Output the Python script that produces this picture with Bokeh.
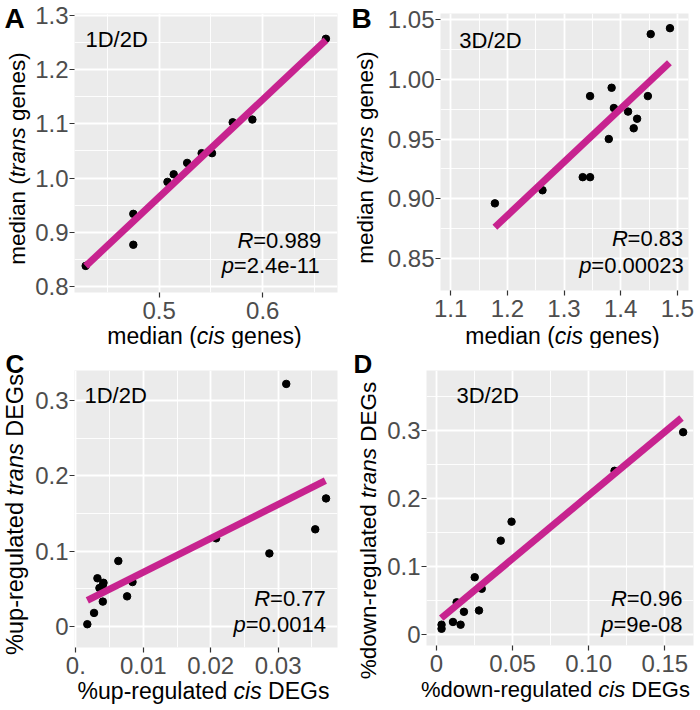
from bokeh.plotting import figure
from bokeh.models import Label, FixedTicker, Range1d
from bokeh.layouts import row, column
from bokeh.core.properties import value
from bokeh.embed import file_html
from bokeh.resources import INLINE

# ---------------- data ----------------
a_cis = [0.429, 0.475, 0.475, 0.508, 0.514, 0.527, 0.541, 0.551, 0.571, 0.590, 0.661]
a_trans = [0.838, 0.934, 0.877, 0.993, 1.007, 1.028, 1.046, 1.046, 1.103, 1.108, 1.257]
a_fit_x = [0.429, 0.661]
a_fit_y = [0.8375, 1.2545]

b_cis = [1.178, 1.262, 1.333, 1.346, 1.346, 1.379, 1.384, 1.388, 1.413, 1.423, 1.429, 1.448, 1.453, 1.487]
b_trans = [0.896, 0.907, 0.918, 0.918, 0.986, 0.950, 0.993, 0.976, 0.973, 0.959, 0.967, 0.986, 1.038, 1.043]
b_fit_x = [1.178, 1.486]
b_fit_y = [0.876, 1.014]

c_cis = [0.0017, 0.0027, 0.0032, 0.0035, 0.0040, 0.0041, 0.0040, 0.0063, 0.0076, 0.0084,
         0.0208, 0.0287, 0.0312, 0.0355, 0.0371]
c_trans = [0.003, 0.018, 0.064, 0.051, 0.055, 0.058, 0.033, 0.087, 0.040, 0.059,
           0.117, 0.097, 0.322, 0.129, 0.170]
c_fit_x = [0.0017, 0.037]
c_fit_y = [0.0345, 0.1935]

d_cis = [0.0033, 0.0033, 0.0108, 0.0132, 0.0158, 0.018, 0.0251, 0.0279, 0.0297, 0.0422, 0.0493, 0.117, 0.1621]
d_trans = [0.008, 0.014, 0.018, 0.047, 0.014, 0.033, 0.084, 0.035, 0.067, 0.138, 0.166, 0.241, 0.298]
d_fit_x = [0.0031, 0.161]
d_fit_y = [0.0236, 0.319]

a_xticks = [0.5, 0.6]
a_xlabels = ["0.5", "0.6"]
a_yticks = [0.8, 0.9, 1.0, 1.1, 1.2, 1.3]
a_ylabels = ["0.8", "0.9", "1.0", "1.1", "1.2", "1.3"]
b_xticks = [1.1, 1.2, 1.3, 1.4, 1.5]
b_xlabels = ["1.1", "1.2", "1.3", "1.4", "1.5"]
b_yticks = [0.85, 0.90, 0.95, 1.00, 1.05]
b_ylabels = ["0.85", "0.90", "0.95", "1.00", "1.05"]
c_xticks = [0.0, 0.01, 0.02, 0.03]
c_xlabels = ["0.", "0.01", "0.02", "0.03"]
c_yticks = [0.0, 0.1, 0.2, 0.3]
c_ylabels = ["0", "0.1", "0.2", "0.3"]
d_xticks = [0.0, 0.05, 0.10, 0.15]
d_xlabels = ["0", "0.05", "0.10", "0.15"]
d_yticks = [0.0, 0.1, 0.2, 0.3]
d_ylabels = ["0", "0.1", "0.2", "0.3"]

# ---------------- styling ----------------
FONT = "Liberation Sans"
LINE_COLOR = "#C7238F"
PANEL_BG = "#EBEBEB"
TICK_TXT = "#4D4D4D"
BASE_FIX = 0.32  # empirical shift (in em) between requested baseline and drawn text

# Arial / Liberation Sans advance widths (1/1000 em)
W = {' ': 278, '(': 333, ')': 333, '%': 889, '-': 333, '.': 278, '=': 584, '/': 278,
     'a': 556, 'b': 556, 'c': 500, 'd': 556, 'e': 556, 'f': 278, 'g': 556, 'h': 556,
     'i': 222, 'j': 222, 'k': 500, 'l': 222, 'm': 833, 'n': 556, 'o': 556, 'p': 556,
     'q': 556, 'r': 333, 's': 500, 't': 278, 'u': 556, 'v': 500, 'w': 722, 'x': 500,
     'y': 500, 'z': 500, 'D': 722, 'E': 667, 'G': 778, 'R': 722}


def tw(s, size):
    return sum(W.get(ch, 556) for ch in s) / 1000.0 * size


def lead_w(s, size):
    return tw(s[:len(s) - len(s.lstrip())], size)


def no_align(f):
    if "frame_align" in f.properties():
        f.frame_align = False


# ---------- main plotting panels ----------
def px2data(P, X, Y):
    x = P["x0"] + (X - P["fl"]) / (P["fr"] - P["fl"]) * (P["x1"] - P["x0"])
    y = P["y0"] + (P["fb"] - Y) / (P["fb"] - P["ft"]) * (P["y1"] - P["y0"])
    return x, y


def add_label(p, P, X, Y, text, size, style="normal"):
    x, y = px2data(P, X, Y - BASE_FIX * size)
    p.add_layout(Label(x=x, y=y, text=text, text_font=FONT, text_font_size=f"{size}px",
                       text_font_style=style, text_align="left", text_baseline="alphabetic",
                       text_color="black"))


def rich_label(p, P, segs, X, Y, size, align="left"):
    total = sum(tw(t, size) for t, _ in segs)
    start = X - total if align == "right" else X
    for t, st in segs:
        add_label(p, P, start + lead_w(t, size), Y, t.strip(), size, style=st)
        start += tw(t, size)


def make_panel(P, xs, ys, fx, fy, xt, xl, yt, yl, xminor, yminor):
    p = figure(width=P["cw"], height=P["ch"], title=None,
               x_range=Range1d(P["x0"], P["x1"]), y_range=Range1d(P["y0"], P["y1"]),
               output_backend="svg", toolbar_location=None,
               min_border_left=P["fl"] - P["cx"],
               min_border_right=P["cx"] + P["cw"] - P["fr"],
               min_border_top=P["ft"] - P["cy"],
               min_border_bottom=P["cy"] + P["ch"] - P["fb"])
    no_align(p)
    p.background_fill_color = PANEL_BG
    p.border_fill_color = "white"
    p.outline_line_color = None
    p.xaxis.ticker = FixedTicker(ticks=xt, minor_ticks=xminor)
    p.yaxis.ticker = FixedTicker(ticks=yt, minor_ticks=yminor)
    p.xaxis.major_label_overrides = {t: l for t, l in zip(xt, xl)}
    p.yaxis.major_label_overrides = {t: l for t, l in zip(yt, yl)}
    for ax in (p.xaxis[0], p.yaxis[0]):
        ax.axis_line_color = None
        ax.major_tick_line_color = "#333333"
        ax.major_tick_line_width = 1.2
        ax.major_tick_out = 5
        ax.major_tick_in = 0
        ax.minor_tick_line_color = None
        ax.major_label_text_font = FONT
        ax.major_label_text_font_size = "24px"
        ax.major_label_text_color = TICK_TXT
    p.xaxis.major_label_standoff = 4
    p.yaxis.major_label_standoff = 1
    for g in (p.xgrid[0], p.ygrid[0]):
        g.grid_line_color = "white"
        g.grid_line_width = 1.8
        g.minor_grid_line_color = "white"
        g.minor_grid_line_width = 0.9
    p.scatter(xs, ys, size=7.5, color="black")
    p.line(fx, fy, line_color=LINE_COLOR, line_width=7)
    return p


# ---------- text-only strips (axis titles, panel letters) ----------
def text_fig(x0, x1, y0, y1):
    f = figure(width=x1 - x0, height=y1 - y0, title=None,
               x_range=Range1d(x0, x1), y_range=Range1d(0, y1 - y0),
               output_backend="svg", toolbar_location=None,
               x_axis_location=None, y_axis_location=None,
               min_border_left=0, min_border_right=0, min_border_top=0, min_border_bottom=0)
    no_align(f)
    f.outline_line_color = None
    f.background_fill_color = "white"
    f.border_fill_color = "white"
    f.grid.visible = False
    f._pg = (x0, x1, y0, y1)
    return f


def put(f, X, Y, txt, size, style="normal", angle=0):
    y1 = f._pg[3]
    if angle == 0:
        Y = Y - BASE_FIX * size
    else:
        X = X - BASE_FIX * size
    f.text(x=[X], y=[y1 - Y], text=[txt], text_font=value(FONT), text_font_size=f"{size}px",
           text_font_style=style, text_align="left", text_baseline="alphabetic",
           angle=angle, angle_units="deg", text_color="black")


def rich_h(f, segs, Xc, Y, size):
    total = sum(tw(t, size) for t, _ in segs)
    start = Xc - total / 2
    for t, st in segs:
        put(f, start + lead_w(t, size), Y, t.strip(), size, style=st)
        start += tw(t, size)


def rich_v(f, segs, X, Yc, size):
    total = sum(tw(t, size) for t, _ in segs)
    start = Yc + total / 2
    for t, st in segs:
        put(f, X, start - lead_w(t, size), t.strip(), size, style=st, angle=90)
        start -= tw(t, size)


# frame geometry (fl, fr, ft, fb) and canvas boxes (cx, cy, cw, ch), page pixels
PA = dict(fl=72, fr=337, ft=13, fb=292, cx=32, cy=0, cw=318, ch=322,
          x0=0.4182, x1=0.6722, y0=0.7889, y1=1.3037)
PB = dict(fl=437, fr=688, ft=13, fb=290, cx=384, cy=0, cw=316, ch=322,
          x0=1.082, x1=1.5197, y0=0.8229, y1=1.0553)
PC = dict(fl=73, fr=337, ft=370, fb=647, cx=32, cy=348, cw=318, ch=329,
          x0=-0.0002, x1=0.0388, y0=-0.0279, y1=0.3398)
PD = dict(fl=426, fr=693, ft=370, fb=645, cx=384, cy=348, cw=316, ch=327,
          x0=-0.0066, x1=0.1689, y0=-0.0167, y1=0.389)

pa = make_panel(PA, a_cis, a_trans, a_fit_x, a_fit_y, a_xticks, a_xlabels, a_yticks, a_ylabels,
                [0.45, 0.55, 0.65], [0.85, 0.95, 1.05, 1.15, 1.25])
pb = make_panel(PB, b_cis, b_trans, b_fit_x, b_fit_y, b_xticks, b_xlabels, b_yticks, b_ylabels,
                [1.15, 1.25, 1.35, 1.45], [0.875, 0.925, 0.975, 1.025])
pc = make_panel(PC, c_cis, c_trans, c_fit_x, c_fit_y, c_xticks, c_xlabels, c_yticks, c_ylabels,
                [0.005, 0.015, 0.025, 0.035], [0.05, 0.15, 0.25])
pd = make_panel(PD, d_cis, d_trans, d_fit_x, d_fit_y, d_xticks, d_xlabels, d_yticks, d_ylabels,
                [0.025, 0.075, 0.125], [0.05, 0.15, 0.25, 0.35])

# in-panel annotations
add_label(pa, PA, 83, 46, "1D/2D", 22)
add_label(pb, PB, 456, 47, "3D/2D", 22)
add_label(pc, PC, 83, 402, "1D/2D", 22)
add_label(pd, PD, 456, 402, "3D/2D", 22)

rich_label(pa, PA, [("R", "italic"), ("=0.989", "normal")], 320, 247, 22, align="right")
rich_label(pa, PA, [("p", "italic"), ("=2.4e-11", "normal")], 320, 272, 22, align="right")
rich_label(pb, PB, [("R", "italic"), ("=0.83", "normal")], 682, 245, 22, align="right")
rich_label(pb, PB, [("p", "italic"), ("=0.00023", "normal")], 682, 272, 22, align="right")
rich_label(pc, PC, [("R", "italic"), ("=0.77", "normal")], 325, 605, 22, align="right")
rich_label(pc, PC, [("p", "italic"), ("=0.0014", "normal")], 325, 631, 22, align="right")
rich_label(pd, PD, [("R", "italic"), ("=0.96", "normal")], 682, 605, 22, align="right")
rich_label(pd, PD, [("p", "italic"), ("=9e-08", "normal")], 682, 631, 22, align="right")

# left strips: panel letters + y titles
ya = text_fig(0, 32, 0, 348)
yb = text_fig(350, 384, 0, 348)
yc = text_fig(0, 32, 348, 710)
yd = text_fig(350, 384, 348, 710)

put(ya, 4, 27, "A", 28, style="bold")
put(yb, 351, 27, "B", 28, style="bold")
put(yc, 5, 372, "C", 26, style="bold")
put(yd, 353, 372, "D", 26, style="bold")

rich_v(ya, [("median (", "normal"), ("trans", "italic"), (" genes)", "normal")], 24, 158, 22.5)
rich_v(yb, [("median (", "normal"), ("trans", "italic"), (" genes)", "normal")], 372, 157, 22.5)
rich_v(yc, [("%up-regulated ", "normal"), ("trans", "italic"), (" DEGs", "normal")], 22, 514, 23.5)
rich_v(yd, [("%down-regulated ", "normal"), ("trans", "italic"), (" DEGs", "normal")], 375, 530, 22.5)

# bottom strips: x titles
xa = text_fig(32, 350, 322, 348)
xb = text_fig(384, 700, 322, 348)
xc = text_fig(32, 350, 677, 710)
xd = text_fig(384, 700, 675, 710)

rich_h(xa, [("median (", "normal"), ("cis", "italic"), (" genes)", "normal")], 204, 343, 23)
rich_h(xb, [("median (", "normal"), ("cis", "italic"), (" genes)", "normal")], 562, 343, 23)
rich_h(xc, [("%up-regulated ", "normal"), ("cis", "italic"), (" DEGs", "normal")], 203, 698, 23)
rich_h(xd, [("%down-regulated ", "normal"), ("cis", "italic"), (" DEGs", "normal")], 555, 696, 22)

qa = row(ya, column(pa, xa))
qb = row(yb, column(pb, xb))
qc = row(yc, column(pc, xc))
qd = row(yd, column(pd, xd))

layout = column(row(qa, qb), row(qc, qd))
open("out.html", "w").write(file_html(layout, INLINE))
